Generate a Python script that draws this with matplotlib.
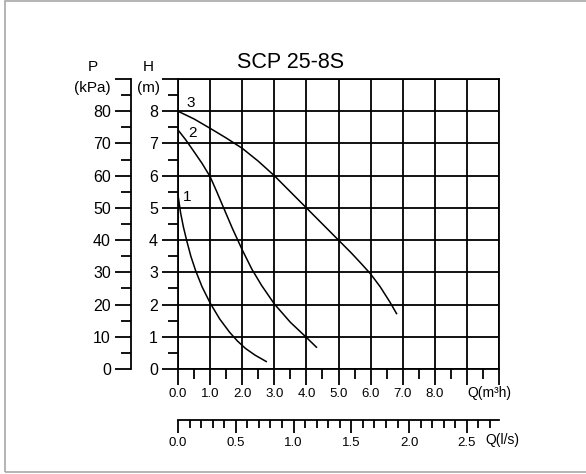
import matplotlib.pyplot as plt
import numpy as np
from matplotlib.patches import Rectangle

plt.rcParams['font.family'] = ['Liberation Sans', 'DejaVu Sans']

# pump curves, Q in m3/h, H in m
q1 = [0, 0.08, 0.17, 0.28, 0.4, 0.55, 0.75, 1.0, 1.3, 1.6, 1.85, 2.1, 2.4, 2.77]
h1 = [5.4, 4.85, 4.4, 3.95, 3.5, 3.05, 2.55, 2.05, 1.55, 1.15, 0.87, 0.64, 0.43, 0.22]

q2 = [0, 0.25, 0.53, 0.75, 1.0, 1.2, 1.4, 1.7, 2.0, 2.3, 2.6, 3.0, 3.5, 4.0, 4.33]
h2 = [7.42, 7.1, 6.7, 6.38, 5.97, 5.52, 5.05, 4.35, 3.7, 3.1, 2.6, 2.02, 1.45, 0.98, 0.66]

q3 = [0, 0.5, 1.0, 1.5, 2.0, 2.5, 3.0, 3.5, 4.0, 4.5, 5.0, 5.4, 5.7, 6.0, 6.3, 6.6, 6.82]
h3 = [8.0, 7.76, 7.47, 7.17, 6.85, 6.45, 6.0, 5.5, 5.0, 4.5, 4.0, 3.6, 3.28, 2.95, 2.55, 2.08, 1.7]

curve_labels = ['1', '2', '3']
label_pos = [(0.28, 5.35), (0.44, 7.32), (0.4, 8.25)]

q_labels = ['0.0', '1.0', '2.0', '3.0', '4.0', '5.0', '6.0', '7.0', '8.0', '', '']
h_labels = ['0', '1', '2', '3', '4', '5', '6', '7', '8', '']
p_labels = ['0', '10', '20', '30', '40', '50', '60', '70', '80', '']
ls_labels = ['0.0', '0.5', '1.0', '1.5', '2.0', '2.5']

W, H = 586, 474
fig = plt.figure(figsize=(W / 100, H / 100), dpi=100)

lw = 1.3
x0, x1 = 178, 499
y0, y1 = 369, 79
ax = fig.add_axes([x0 / W, 1 - y0 / H, (x1 - x0) / W, (y0 - y1) / H])
ax.set_xlim(0, 10)
ax.set_ylim(0, 9)
ax.set_xticks(np.arange(11))
ax.set_xticklabels(q_labels, fontsize=9.5)
ax.set_xticks(np.arange(0.5, 10, 1), minor=True)
ax.set_yticks(np.arange(10))
ax.set_yticklabels(h_labels, fontsize=11.5)
ax.set_yticks(np.arange(0.5, 9, 1), minor=True)
ax.grid(which='major', color='black', linewidth=lw)
ax.tick_params(which='major', length=11.5, width=lw, direction='out', pad=3)
ax.tick_params(which='minor', length=7, width=lw, direction='out')
ax.tick_params(axis='x', which='major', pad=2)
for s in ax.spines.values():
    s.set_linewidth(lw)

for q, h in [(q1, h1), (q2, h2), (q3, h3)]:
    ax.plot(q, h, color='black', linewidth=1.1, solid_capstyle='butt')
for t, (x, y) in zip(curve_labels, label_pos):
    ax.text(x, y, t, fontsize=11, ha='center', va='center')
ax.text(9.03, -0.75, 'Q(m³h)', fontsize=10, ha='left', va='center')

# pressure scale
axp = fig.add_axes([131 / W, 1 - y0 / H, 0.0001, (y0 - y1) / H])
axp.set_ylim(0, 90)
axp.set_xticks([])
axp.set_yticks(np.arange(0, 91, 10))
axp.set_yticklabels(p_labels, fontsize=11.5)
axp.set_yticks(np.arange(5, 90, 10), minor=True)
axp.tick_params(which='major', length=11.5, width=lw, direction='out', pad=3)
axp.tick_params(which='minor', length=7, width=lw, direction='out')
for k in ['top', 'right', 'bottom']:
    axp.spines[k].set_visible(False)
axp.spines['left'].set_linewidth(lw)
axp.patch.set_visible(False)

# flow scale in l/s
axq = fig.add_axes([x0 / W, 1 - 420 / H, (x1 - x0) / W, 0.0001])
axq.set_xlim(0, 10 / 3.6)
axq.set_yticks([])
axq.set_xticks(np.arange(0, 2.6, 0.5))
axq.set_xticklabels(ls_labels, fontsize=9.5)
axq.set_xticks(np.arange(0.1, 2.75, 0.1), minor=True)
axq.tick_params(which='major', length=9, width=lw, direction='out', pad=3)
axq.tick_params(which='minor', length=6, width=lw, direction='out')
for k in ['top', 'right', 'left']:
    axq.spines[k].set_visible(False)
axq.spines['bottom'].set_linewidth(lw)
axq.patch.set_visible(False)
fig.text(485 / W, 1 - 440 / H, 'Q(l/s)', fontsize=10, ha='left', va='center')

# axis titles
fig.text(93 / W, 1 - 67 / H, 'P', fontsize=11, ha='center', va='center')
fig.text(92 / W, 1 - 88 / H, '(kPa)', fontsize=11, ha='center', va='center')
fig.text(148 / W, 1 - 67 / H, 'H', fontsize=11, ha='center', va='center')
fig.text(148 / W, 1 - 88 / H, '(m)', fontsize=11, ha='center', va='center')
fig.text(291 / W, 1 - 62 / H, 'SCP 25-8S', fontsize=15.5, ha='center', va='center')

fig.patches.append(Rectangle((4.5 / W, 2 / H), 1.0, 471 / H, transform=fig.transFigure,
                             fill=False, edgecolor='#a8a8a8', linewidth=1.2))

fig.savefig('out.png', dpi=100)
